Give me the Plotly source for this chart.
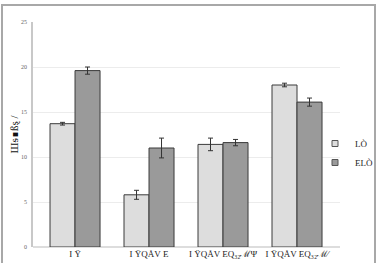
import plotly.graph_objects as go

categories = ["Ι Ÿ", "Ι ŸQÅV Ε", "Ι ŸQÅV ΕQ₃₂ℳΨ", "Ι ŸQÅV ΕQ₃₂ℳ⁄"]
series_names = ["LÒ", "ELÒ"]
light_vals = [13.7, 5.8, 11.4, 18.0]
light_err = [0.15, 0.5, 0.7, 0.2]
dark_vals = [19.6, 11.0, 11.6, 16.1]
dark_err = [0.4, 1.1, 0.35, 0.45]
y_title = "Шᵴ∎ßȿ /"

W, H = 379, 263
xs = list(range(len(categories)))
bw = 0.338
light_color, dark_color, edge = "#dddddd", "#9a9a9a", "#3a3a3a"

fig = go.Figure()
fig.add_trace(go.Bar(
    x=xs, y=light_vals, name=series_names[0], width=bw, offset=-bw, showlegend=False,
    marker=dict(color=light_color, line=dict(color=edge, width=1)),
    error_y=dict(type="data", array=light_err, color="#333333", thickness=1, width=2.5),
))
fig.add_trace(go.Bar(
    x=xs, y=dark_vals, name=series_names[1], width=bw, offset=0, showlegend=False,
    marker=dict(color=dark_color, line=dict(color=edge, width=1)),
    error_y=dict(type="data", array=dark_err, color="#333333", thickness=1, width=2.5),
))
for nm, col in zip(series_names, [light_color, dark_color]):
    fig.add_trace(go.Scatter(
        x=[None], y=[None], mode="markers", name=nm, showlegend=True,
        marker=dict(symbol="square", size=6, color=col, line=dict(color="#555555", width=1)),
    ))

l, r, t, b = 33, W - 340, 22, H - 247
pw, ph = W - l - r, H - t - b

def px(xp):
    return (xp - l) / pw

def py(yp):
    return (H - b - yp) / ph

fig.update_layout(
    width=W, height=H,
    margin=dict(l=l, r=r, t=t, b=b, pad=0, autoexpand=False),
    paper_bgcolor="white", plot_bgcolor="white",
    barmode="group",
    font=dict(family="Liberation Serif, DejaVu Serif, serif", color="#222222"),
    showlegend=True,
    legend=dict(x=px(315), y=py(153), xanchor="left", yanchor="middle",
                font=dict(size=9, color="#222222"), itemwidth=30,
                tracegroupgap=0, bgcolor="rgba(0,0,0,0)", borderwidth=0),
    xaxis=dict(
        tickmode="array", tickvals=xs, ticktext=categories, tickangle=0, automargin=False,
        range=[-0.568, 3.581], showgrid=False, showline=False, zeroline=False,
        ticks="", tickfont=dict(size=9, color="#222222"),
    ),
    yaxis=dict(
        range=[0, 25], dtick=5, showgrid=True, gridcolor="#ececec", gridwidth=1,
        showline=True, linecolor="#c8c8c8", linewidth=1.5, automargin=False,
        zeroline=True, zerolinecolor="#dddddd",
        ticks="", tickfont=dict(size=6, color="#666666"),
        ticklabelstandoff=3,
        title=dict(text=y_title, font=dict(size=11, color="#111111"), standoff=0),
    ),
    shapes=[dict(type="rect", xref="paper", yref="paper",
                 x0=px(2), x1=px(375), y0=py(266), y1=py(5),
                 line=dict(color="#a8a8a8", width=2), fillcolor="rgba(0,0,0,0)",
                 layer="below")],
)

fig.write_html("out.html")
